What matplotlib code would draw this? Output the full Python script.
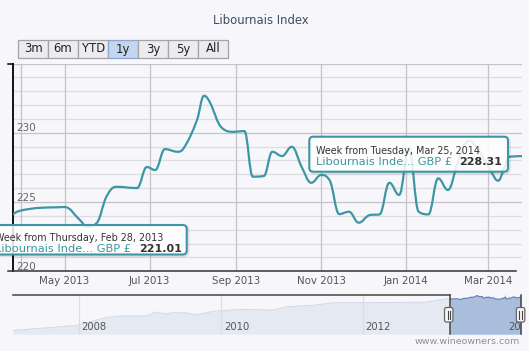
import matplotlib
matplotlib.use("Agg")
import matplotlib.pyplot as plt
import matplotlib.dates as mdates
import matplotlib.transforms as mtransforms
from matplotlib.path import Path
from matplotlib.patches import PathPatch, FancyBboxPatch, Rectangle
from matplotlib.lines import Line2D
import numpy as np
import pandas as pd

# ---------------- data ----------------
TITLE = "Libournais Index"

dates = ["2013-03-25", "2013-03-30", "2013-04-15", "2013-04-26", "2013-05-01",
         "2013-05-12", "2013-05-17", "2013-05-24", "2013-05-31", "2013-06-07",
         "2013-06-22", "2013-06-29", "2013-07-05", "2013-07-12", "2013-07-21",
         "2013-07-26", "2013-08-04", "2013-08-09", "2013-08-13", "2013-08-22",
         "2013-08-30", "2013-09-07", "2013-09-13", "2013-09-21", "2013-09-27",
         "2013-10-04", "2013-10-11", "2013-10-18", "2013-10-25", "2013-11-01",
         "2013-11-07", "2013-11-14", "2013-11-21", "2013-11-28", "2013-12-06",
         "2013-12-13", "2013-12-20", "2013-12-27", "2014-01-03", "2014-01-10",
         "2014-01-17", "2014-01-24", "2014-01-31", "2014-02-07", "2014-02-15",
         "2014-02-22", "2014-03-03", "2014-03-08", "2014-03-12", "2014-03-16",
         "2014-03-25"]
values = [224.13, 224.37, 224.59, 224.62, 224.64,
          223.70, 223.22, 223.48, 225.38, 226.10,
          226.01, 227.53, 227.31, 228.82, 228.63,
          228.97, 230.92, 232.67, 232.24, 230.34,
          230.07, 230.12, 226.83, 226.88, 228.63,
          228.32, 228.99, 227.55, 226.39, 226.95,
          226.59, 224.13, 224.30, 223.51, 224.06,
          224.11, 226.39, 225.51, 228.90, 224.30,
          224.11, 226.71, 225.87, 227.81, 229.42,
          228.75, 227.19, 226.54, 227.31, 228.27,
          228.31]

nav_dates = ["2007-01-28", "2007-12-22", "2008-05-25", "2008-08-01", "2008-12-17",
             "2009-01-29", "2009-03-21", "2009-05-01", "2009-07-02", "2009-08-31",
             "2009-11-23", "2010-04-11", "2010-09-28", "2010-12-08", "2011-04-22",
             "2011-08-03", "2011-11-24", "2012-11-19", "2013-03-04"]
nav_values = [146.0, 158.5, 178.5, 181.75, 181.75,
              191.75, 187.5, 190.0, 190.0, 185.0,
              193.5, 198.5, 196.75, 205.0, 208.5,
              215.0, 215.0, 216.25, 224.75]

x_tick_dates = ["2013-05-01", "2013-07-01", "2013-09-01", "2013-11-01", "2014-01-01", "2014-03-01"]
x_tick_labels = ["May 2013", "Jul 2013", "Sep 2013", "Nov 2013", "Jan 2014", "Mar 2014"]
extra_grid_dates = ["2013-03-31"]
y_ticks = [220, 225, 230]
nav_year_labels = ["2008", "2010", "2012", "2014"]
buttons = ["3m", "6m", "YTD", "1y", "3y", "5y", "All"]
selected_button = "1y"
series_label = "Libournais Inde... GBP £"
tip1_header = "Week from Thursday, Feb 28, 2013"
tip1_value = "221.01"
tip2_header = "Week from Tuesday, Mar 25, 2014"
tip2_value = "228.31"
footer = "www.wineowners.com"

# ---------------- styles ----------------
W, H = 529, 351
BG = "#f7f7fb"
TEAL = "#3d96a3"
FONT = "DejaVu Sans"
plt.rcParams["font.family"] = [FONT]

fig = plt.figure(figsize=(W / 100, H / 100), dpi=100, facecolor=BG)
PX = mtransforms.Affine2D().scale(1.0 / W, 1.0 / H) + fig.transFigure


def P(x, ytop):
    return (x, H - ytop)


def dn(s):
    return mdates.date2num(pd.Timestamp(s))


# ---------------- main axes ----------------
L, R, T, B = 13, 521.8, 63.5, 271.3
ax = fig.add_axes([L / W, 1 - B / H, (R - L) / W, (B - T) / H])
ax.set_facecolor("none")
ax.set_xlim(dn(dates[0]), dn(dates[-1]))
ax.set_ylim(220, 235)
for s in ["top", "right", "bottom"]:
    ax.spines[s].set_visible(False)
ax.spines["left"].set_color("#000000")
ax.spines["left"].set_linewidth(1.3)
ax.set_xticks([])
ax.set_yticks([])

for v in range(221, 236):
    ax.axhline(v, color="#c4c4c8" if v % 5 == 0 else "#dedee2", lw=0.9, zorder=0.5)
for d in x_tick_dates + extra_grid_dates:
    ax.axvline(dn(d), color="#c4c4c8", lw=0.9, zorder=0.5)

# axis lines/ticks in pixel space
fig.add_artist(Line2D([8, 516], [H - B, H - B], transform=PX, color="#333333", lw=1.1))
fig.add_artist(Line2D([8, 13], [H - T, H - T], transform=PX, color="#000000", lw=1.1))

for v in y_ticks:
    ax.annotate(str(v), xy=(0, v), xycoords=("axes fraction", "data"),
                xytext=(3, 1.5), textcoords="offset pixels", ha="left", va="baseline",
                fontsize=7.5, color="#666666")
for d, lab in zip(x_tick_dates, x_tick_labels):
    ax.annotate(lab, xy=(dn(d), 0), xycoords=("data", "axes fraction"),
                xytext=(0, -10), textcoords="offset pixels", ha="center", va="center",
                fontsize=7.4, color="#555555", annotation_clip=False)


# spline (Highcharts-style Bezier smoothing) through the data points
def spline_path(xs, ys, smoothing=1.5):
    n = len(xs)
    lc = [(xs[i], ys[i]) for i in range(n)]
    rc = [(xs[i], ys[i]) for i in range(n)]
    den = smoothing + 1
    for i in range(1, n - 1):
        px_, py_ = xs[i - 1], ys[i - 1]
        x, y = xs[i], ys[i]
        nx_, ny_ = xs[i + 1], ys[i + 1]
        lcx = (smoothing * x + px_) / den
        lcy = (smoothing * y + py_) / den
        rcx = (smoothing * x + nx_) / den
        rcy = (smoothing * y + ny_) / den
        if rcx != lcx:
            corr = ((rcy - lcy) * (rcx - x)) / (rcx - lcx) + y - rcy
            lcy += corr
            rcy += corr
        if lcy > py_ and lcy > y:
            lcy = max(py_, y); rcy = 2 * y - lcy
        elif lcy < py_ and lcy < y:
            lcy = min(py_, y); rcy = 2 * y - lcy
        if rcy > ny_ and rcy > y:
            rcy = max(ny_, y); lcy = 2 * y - rcy
        elif rcy < ny_ and rcy < y:
            rcy = min(ny_, y); lcy = 2 * y - rcy
        lc[i] = (lcx, lcy)
        rc[i] = (rcx, rcy)
    verts = [(xs[0], ys[0])]
    codes = [Path.MOVETO]
    for i in range(1, n):
        verts += [rc[i - 1], lc[i], (xs[i], ys[i])]
        codes += [Path.CURVE4] * 3
    return Path(verts, codes)


xs = [dn(d) for d in dates]
ax.add_patch(PathPatch(spline_path(xs, values), facecolor="none", edgecolor=TEAL,
                       lw=1.6, zorder=3, capstyle="round", joinstyle="round"))

# ---------------- title & buttons ----------------
fig.text(261 / W, 1 - 20.2 / H, TITLE, ha="center", va="center", fontsize=8.4, color="#3E4F62")

bx0, bw = 18.0, 30.07
for i, b in enumerate(buttons):
    x0 = bx0 + i * bw
    sel = (b == selected_button)
    fig.add_artist(Rectangle(P(x0, 58), bw, 18, transform=PX,
                             facecolor="#c3d6ef" if sel else "#ececee",
                             edgecolor="#8fa6c8" if sel else "#a4a4a8", lw=0.9))
    fig.text(x0 + bw / 2, H - 49, b, transform=PX, ha="center", va="center",
             fontsize=8.4, color="#222222")


# ---------------- tooltips ----------------
def tooltip(x0, x1, y0, y1, header, value, h_y, b_y, tx, vx):
    # shadow
    fig.add_artist(FancyBboxPatch(P(x0 + 1, y1 + 1), x1 - x0, y1 - y0, transform=PX,
                                  boxstyle="round,pad=0,rounding_size=4",
                                  facecolor="none", edgecolor="#00000018", lw=2.5, zorder=8))
    fig.add_artist(FancyBboxPatch(P(x0, y1), x1 - x0, y1 - y0, transform=PX,
                                  boxstyle="round,pad=0,rounding_size=4",
                                  facecolor=(1, 1, 1, 0.86), edgecolor=TEAL, lw=1.5, zorder=9))
    fig.text(tx, H - h_y, header, transform=PX, ha="left", va="center",
             fontsize=6.9, color="#333333", zorder=10)
    fig.text(tx, H - b_y, series_label, transform=PX, ha="left", va="center",
             fontsize=8.2, color=TEAL, zorder=10)
    fig.text(vx, H - b_y, value, transform=PX, ha="right", va="center",
             fontsize=8.0, color="#333333", fontweight="bold", zorder=10)


tooltip(-11, 186.7, 225, 254.5, tip1_header, tip1_value, 238.3, 249.3, -4.6, 181.7)
tooltip(309.3, 508, 136.7, 171.7, tip2_header, tip2_value, 151.5, 162.3, 315.7, 502.3)

# ---------------- navigator ----------------
NL, NR, NT, NB = 12.8, 521, 294.8, 334.2
axn = fig.add_axes([NL / W, 1 - NB / H, (NR - NL) / W, (NB - NT) / H])
axn.set_facecolor("#fbfbfd")
axn.set_xlim(dn("2007-01-27"), dn(dates[-1]))
axn.set_ylim(136.75, 234.75)
axn.axis("off")
axn.patch.set_visible(True)

all_x = [dn(d) for d in nav_dates] + xs
all_v = nav_values + values
axn.fill_between(all_x, all_v, 136.75, color="#e4e9f2", lw=0, zorder=1)
axn.plot(all_x, all_v, color="#d2dae8", lw=0.8, zorder=2)
axn.fill_between(xs, values, 136.75, color="#a9bddc", lw=0, zorder=3)
axn.plot(xs, values, color="#5a7cb0", lw=0.8, zorder=4)

for yl in nav_year_labels:
    axn.axvline(dn(yl + "-01-01"), color="#dcdce6", lw=0.9, zorder=2.5)
    axn.annotate(yl, xy=(dn(yl + "-01-01"), 0.19), xycoords=("data", "axes fraction"),
                 xytext=(3, 0), textcoords="offset pixels", ha="left", va="center",
                 fontsize=7.2, color="#555555", clip_on=True, zorder=5)

sel_x = 449.7
fig.add_artist(Line2D([NL, sel_x], [H - NT, H - NT], transform=PX, color="#444444", lw=1.1))
fig.add_artist(Line2D([sel_x, sel_x], [H - NT, H - NB], transform=PX, color="#444444", lw=1.1))
fig.add_artist(Line2D([520.6, 520.6], [H - NT, H - NB], transform=PX, color="#444444", lw=1.1))
for hx in [sel_x - 1, 520.6]:
    fig.add_artist(FancyBboxPatch(P(hx - 4.2, 322), 8.4, 14.5, transform=PX,
                                  boxstyle="round,pad=0,rounding_size=2",
                                  facecolor="#f6f6f6", edgecolor="#666666", lw=0.9, zorder=9))
    for gx in [hx - 1.2, hx + 1.2]:
        fig.add_artist(Line2D([gx, gx], [H - 311, H - 318.5], transform=PX,
                              color="#444444", lw=0.8, zorder=10))

fig.text(519.6, H - 342, footer, transform=PX, ha="right", va="center",
         fontsize=6.8, color="#909090")

fig.savefig("out.png", dpi=100, facecolor=BG)
